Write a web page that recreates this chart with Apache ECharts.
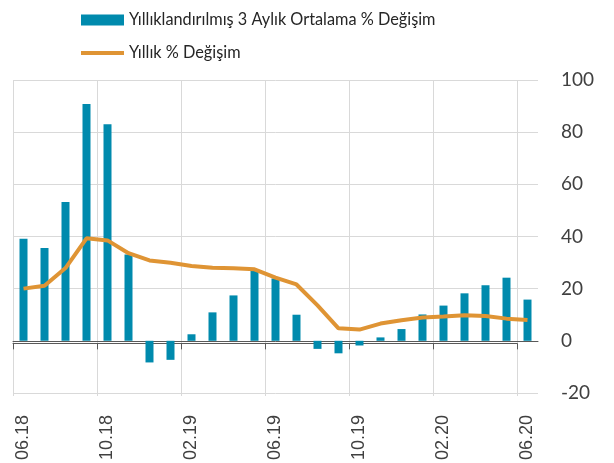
<!DOCTYPE html>
<html>
<head>
<meta charset="utf-8">
<script src="https://cdn.jsdelivr.net/npm/echarts@6/dist/echarts.min.js"></script>
<style>
html,body{margin:0;padding:0;background:#fff;}
#chart{width:614px;height:463px;}
</style>
</head>
<body>
<div id="chart"></div>
<script>
var categories = ['06.18','07.18','08.18','09.18','10.18','11.18','12.18','01.19','02.19','03.19','04.19','05.19','06.19','07.19','08.19','09.19','10.19','11.19','12.19','01.20','02.20','03.20','04.20','05.20','06.20'];
var barName = 'Yıllıklandırılmış 3 Aylık Ortalama % Değişim';
var lineName = 'Yıllık % Değişim';
var barValues = [39.1, 35.6, 53.2, 90.8, 83.0, 33.1, -8.3, -7.3, 2.5, 10.9, 17.4, 27.0, 23.9, 10.0, -3.1, -4.8, -1.8, 1.3, 4.5, 10.1, 13.5, 18.2, 21.3, 24.2, 15.8];
var lineValues = [20.0, 21.1, 27.9, 39.3, 38.5, 33.6, 30.8, 29.9, 28.7, 28.0, 27.8, 27.4, 24.2, 21.6, 13.6, 4.8, 4.3, 6.6, 7.9, 8.9, 9.3, 9.8, 9.5, 8.5, 8.0];
var yMin = -20, yMax = 100, yStep = 20;
var tickEvery = 4;

var n = categories.length;
var gridLeft = 13, gridRight = 76, gridTop = 80, gridBottom = 67;
var plotW = 614 - gridLeft - gridRight;
var bandW = plotW / n;
// helper grid spanning only the tick boundaries 0..24 (no boundary at the far right end)
var lastTick = Math.floor((n - 1) / tickEvery) * tickEvery;
var helperRight = gridRight + (n - lastTick) * bandW;

var chart = echarts.init(document.getElementById('chart'), null, {renderer: 'canvas'});
chart.setOption({
  animation: false,
  backgroundColor: '#ffffff',
  legend: {
    orient: 'vertical',
    left: 76,
    top: 7,
    itemWidth: 43,
    itemHeight: 11,
    itemGap: 17,
    textStyle: {fontFamily: 'Lato', fontSize: 16.3, color: '#262626'},
    data: [
      {name: barName, icon: 'rect'},
      {name: lineName, icon: 'path://M0,0H43V4H0Z'}
    ]
  },
  grid: [
    {left: gridLeft, right: gridRight, top: gridTop, bottom: gridBottom, containLabel: false},
    {left: gridLeft, right: helperRight, top: gridTop, bottom: gridBottom, containLabel: false}
  ],
  xAxis: [{
    type: 'category',
    gridIndex: 0,
    data: categories,
    boundaryGap: true,
    axisLine: {onZero: true, lineStyle: {color: '#595959', width: 1}},
    axisTick: {show: false},
    axisLabel: {show: false},
    splitLine: {show: false}
  }, {
    type: 'category',
    gridIndex: 0,
    data: categories,
    position: 'bottom',
    boundaryGap: true,
    axisLine: {show: false, onZero: false},
    axisTick: {show: false},
    splitLine: {show: false},
    axisLabel: {
      interval: tickEvery - 1, rotate: 90, margin: 22,
      fontFamily: 'Liberation Sans', fontSize: 18, color: '#404040'
    }
  }, {
    type: 'value',
    gridIndex: 1,
    min: 0, max: lastTick, interval: tickEvery,
    axisLine: {show: true, onZero: true, lineStyle: {color: '#595959', width: 1}},
    axisTick: {show: true, length: 6, lineStyle: {color: '#595959'}},
    axisLabel: {show: false},
    splitLine: {show: true, lineStyle: {color: '#d9d9d9', width: 1}}
  }],
  yAxis: [{
    type: 'value',
    gridIndex: 0,
    position: 'right',
    min: yMin, max: yMax, interval: yStep,
    axisLine: {show: false},
    axisTick: {show: false},
    axisLabel: {margin: 23, fontFamily: 'Lato', fontSize: 19, color: '#404040'},
    splitLine: {lineStyle: {color: '#d9d9d9', width: 1}}
  }, {
    type: 'value',
    gridIndex: 1,
    min: yMin, max: yMax, interval: yStep,
    axisLine: {show: false},
    axisTick: {show: false},
    axisLabel: {show: false},
    splitLine: {show: false}
  }],
  series: [{
    name: barName,
    type: 'bar',
    xAxisIndex: 0,
    yAxisIndex: 0,
    data: barValues,
    barWidth: 8,
    itemStyle: {color: '#008aad'}
  }, {
    name: lineName,
    type: 'line',
    xAxisIndex: 0,
    yAxisIndex: 0,
    data: lineValues,
    symbol: 'none',
    lineStyle: {color: '#df9434', width: 4},
    itemStyle: {color: '#df9434'}
  }]
});
</script>
</body>
</html>
